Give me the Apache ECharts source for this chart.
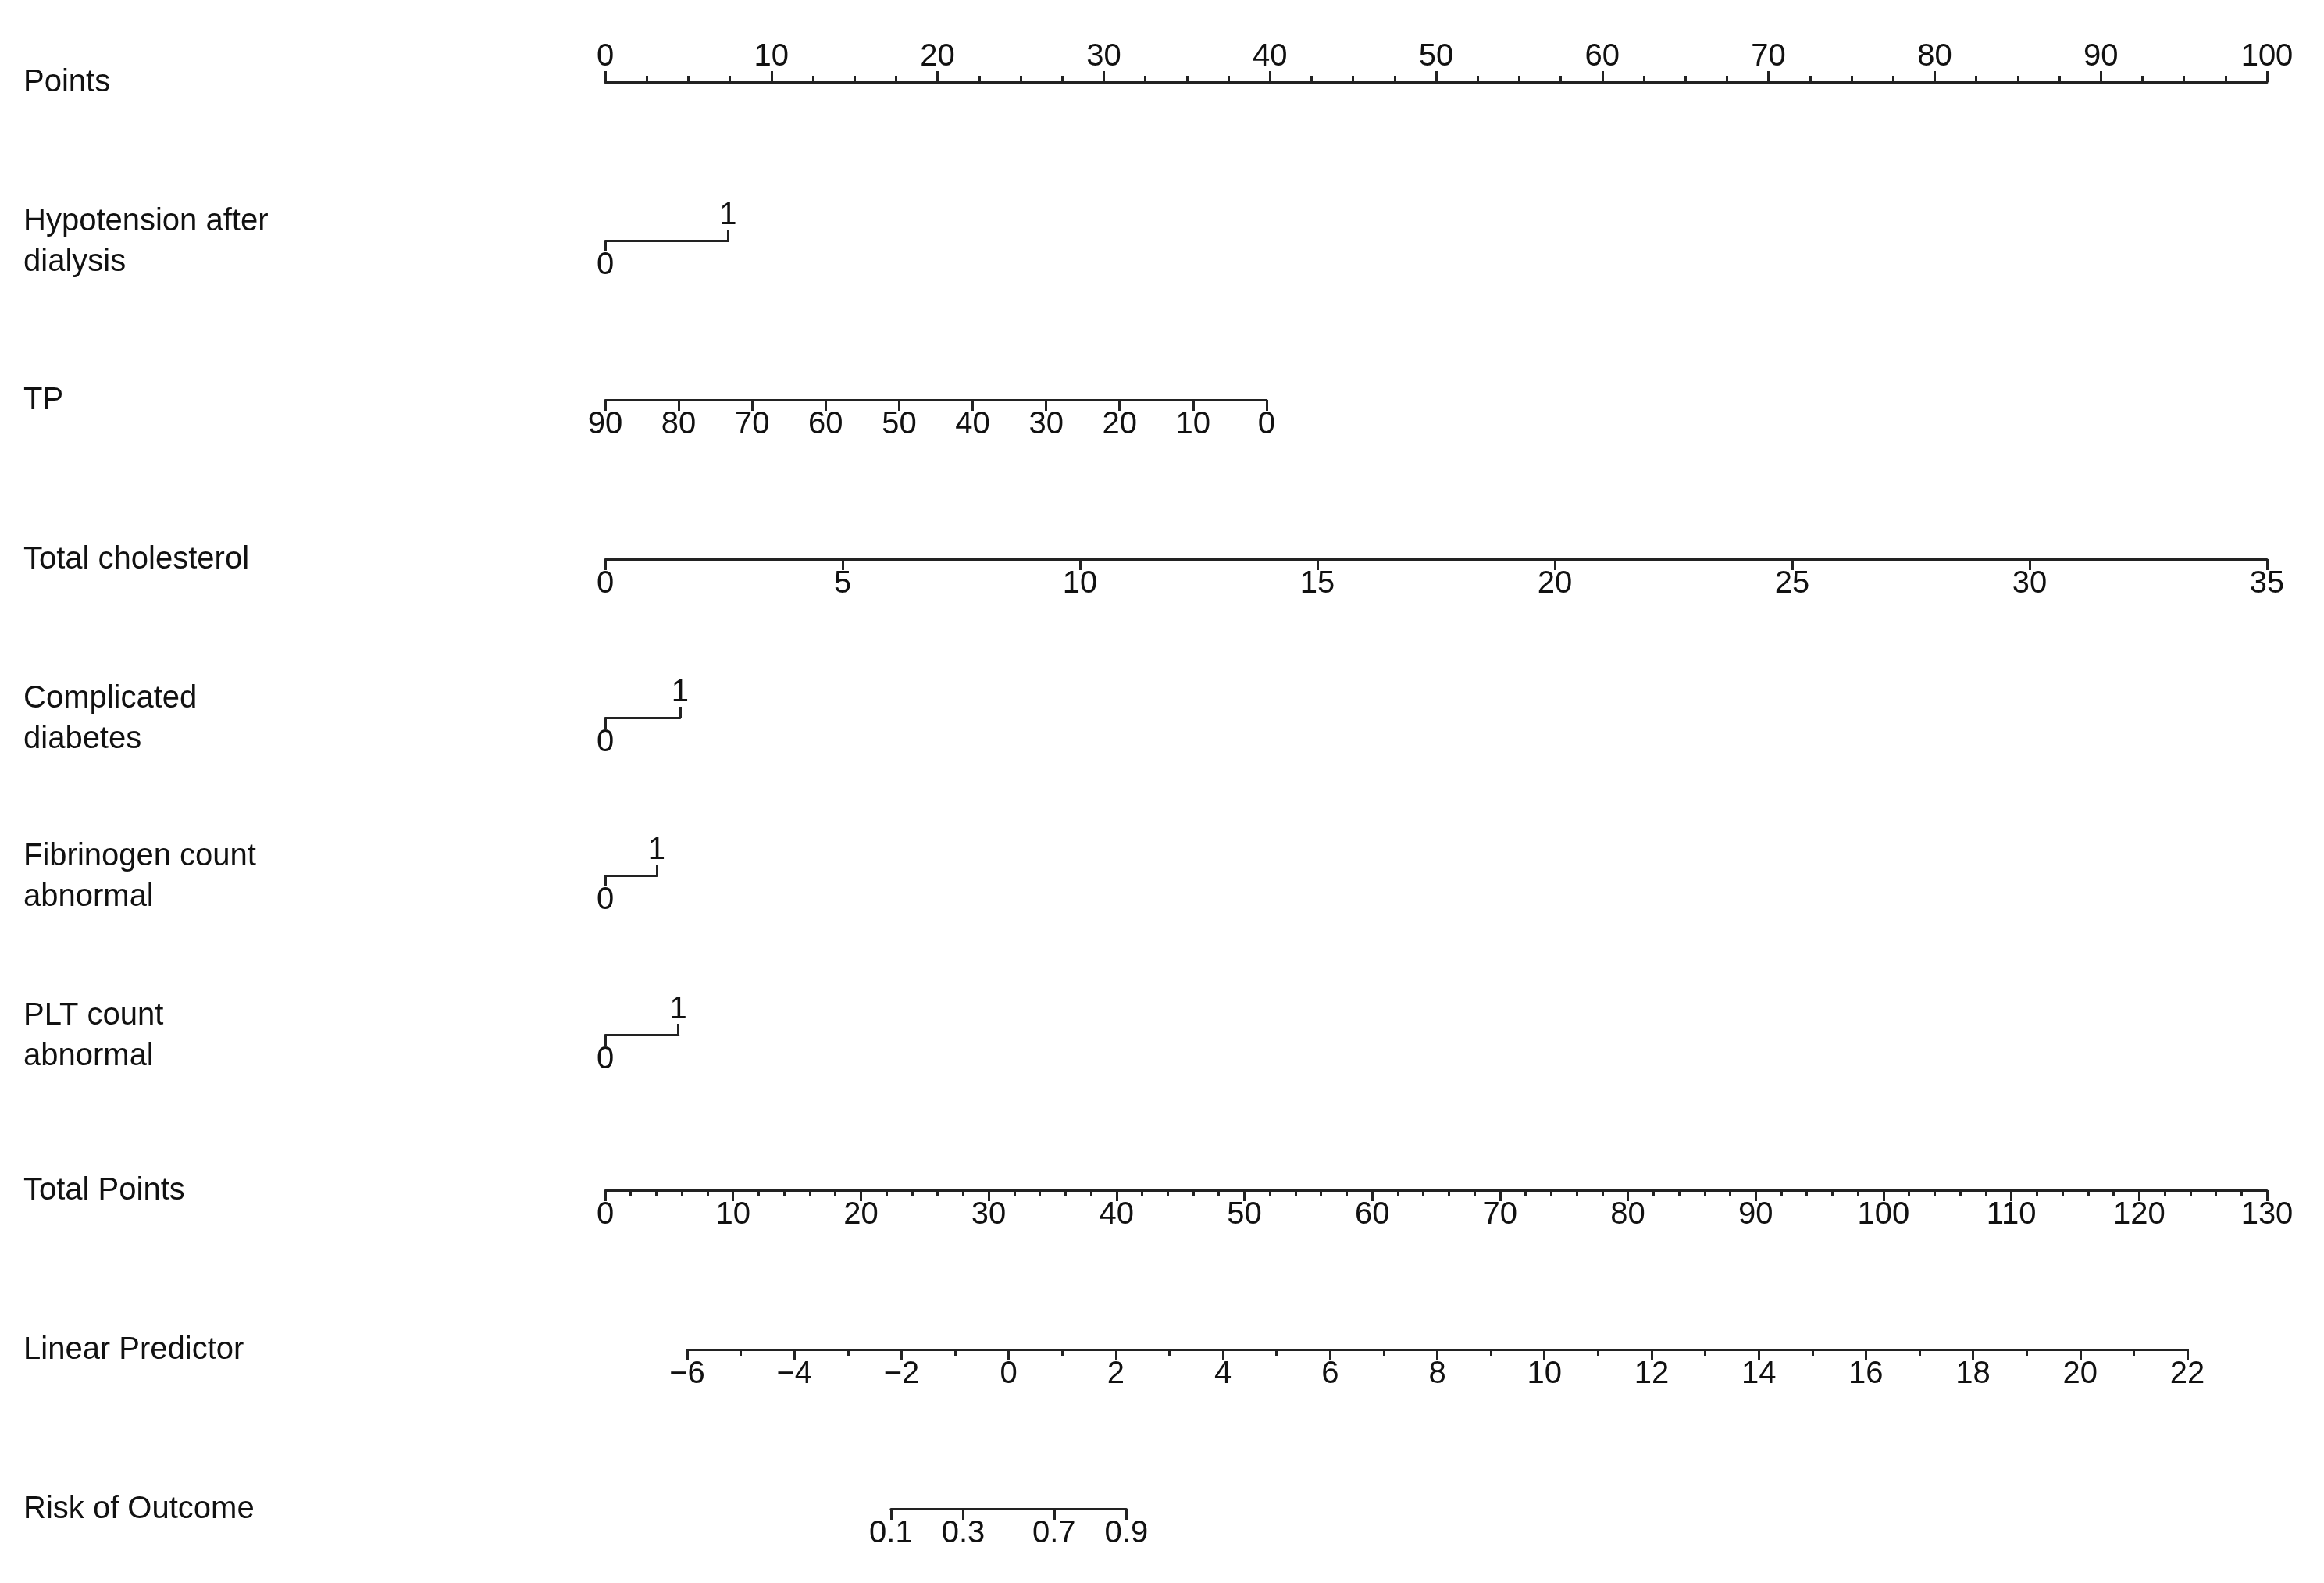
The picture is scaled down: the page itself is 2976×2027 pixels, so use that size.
<!DOCTYPE html>
<html lang="en">
<head>
    <meta charset="UTF-8">
    <title>Nomogram</title>
    <script src="https://cdn.jsdelivr.net/npm/echarts@6/dist/echarts.min.js"></script>
    <style>
        html, body { margin: 0; background: #fff; }
        #container { width: 2976px; height: 2027px; }
    </style>
</head>
<body>
<div id="container"></div>
<script>
    // row labels and the y of each row's axis line
    var rowNames = ['Points', 'Hypotension after\ndialysis', 'TP', 'Total cholesterol',
        'Complicated\ndiabetes', 'Fibrinogen count\nabnormal', 'PLT count\nabnormal',
        'Total Points', 'Linear Predictor', 'Risk of Outcome'];
    var rowY = [105, 308, 512, 716, 919, 1121, 1325, 1524, 1728, 1932];

    // where each predictor's range ends on the points scale
    var tpPoints = 39.8;          // TP 0 -> 39.8 points, TP 90 -> 0 points
    var binaryRows = [1, 4, 5, 6];
    var binaryPoints = [7.4, 4.5, 3.1, 4.4];

    var tpRange = [0, 90];
    var cholRange = [0, 35];
    var totalRange = [0, 130];
    var lpRange = [-6, 22];
    var riskTicks = [0.1, 0.3, 0.7, 0.9];

    // pixel layout of the points scale and the linear predictor
    var px0 = 775, px100 = 2903;
    function ptPx(p) { return px0 + (px100 - px0) * p / 100; }
    var lpPx0 = 880, lpPx1 = 2801;
    function lpPx(v) { return lpPx0 + (lpPx1 - lpPx0) * (v - lpRange[0]) / (lpRange[1] - lpRange[0]); }
    function logit(p) { return Math.log(p / (1 - p)); }

    var FONT = 'Liberation Sans';
    var FS = 40;
    var INK = '#222';

    var grids = [], xAxes = [], yAxes = [];

    function addRow(y, left, right, axes) {
        var gi = grids.length;
        grids.push({ left: left, width: right - left, top: y, height: 0, containLabel: false });
        yAxes.push({ gridIndex: gi, show: false, type: 'value' });
        axes.forEach(function (a) {
            a.gridIndex = gi;
            a.type = 'value';
            a.splitLine = { show: false };
            a.axisLine = a.axisLine || { show: true, onZero: false, lineStyle: { color: INK, width: 3 } };
            a.axisTick = Object.assign({ show: true, length: 14, lineStyle: { color: INK, width: 3 } }, a.axisTick || {});
            a.axisLabel = Object.assign({ fontFamily: FONT, fontSize: FS, color: '#111', margin: 12,
                showMinLabel: true, showMaxLabel: true, hideOverlap: false }, a.axisLabel || {});
            xAxes.push(a);
        });
    }

    // Points
    addRow(rowY[0], ptPx(0), ptPx(100), [{
        position: 'top', min: 0, max: 100, interval: 10,
        minorTick: { show: true, splitNumber: 4, length: 8, lineStyle: { color: INK, width: 3 } }
    }]);

    // binary predictors: line from 0 to 1, "0" below its end, "1" above
    binaryRows.forEach(function (r, i) {
        addRow(rowY[r], ptPx(0), ptPx(binaryPoints[i]), [
            { position: 'bottom', min: 0, max: 1,
              axisTick: { customValues: [0] }, axisLabel: { customValues: [0] } },
            { position: 'top', min: 0, max: 1, axisLine: { show: false, onZero: false },
              axisTick: { customValues: [1] }, axisLabel: { customValues: [1] } }
        ]);
    });

    // TP (reversed)
    addRow(rowY[2], ptPx(0), ptPx(tpPoints), [{
        position: 'bottom', min: tpRange[0], max: tpRange[1], interval: 10, inverse: true
    }]);

    // Total cholesterol
    addRow(rowY[3], ptPx(0), ptPx(100), [{
        position: 'bottom', min: cholRange[0], max: cholRange[1], interval: 5
    }]);

    // Total Points
    addRow(rowY[7], ptPx(0), ptPx(100), [{
        position: 'bottom', min: totalRange[0], max: totalRange[1], interval: 10,
        minorTick: { show: true, splitNumber: 5, length: 8, lineStyle: { color: INK, width: 3 } }
    }]);

    // Linear Predictor
    addRow(rowY[8], lpPx(lpRange[0]), lpPx(lpRange[1]), [{
        position: 'bottom', min: lpRange[0], max: lpRange[1], interval: 2,
        minorTick: { show: true, splitNumber: 2, length: 8, lineStyle: { color: INK, width: 3 } },
        axisLabel: { formatter: function (v) { return v < 0 ? '\u2212' + (-v) : String(v); } }
    }]);

    // Risk of Outcome on the logit scale of the linear predictor
    var riskVals = riskTicks.map(logit);
    addRow(rowY[9], lpPx(riskVals[0]), lpPx(riskVals[riskVals.length - 1]), [{
        position: 'bottom', min: riskVals[0], max: riskVals[riskVals.length - 1],
        axisTick: { customValues: riskVals },
        axisLabel: { customValues: riskVals,
            formatter: function (v) { return (1 / (1 + Math.exp(-v))).toFixed(1); } }
    }]);

    var graphic = rowNames.map(function (name, i) {
        return {
            type: 'text', left: 30, top: rowY[i] - (name.indexOf('\n') >= 0 ? 50 : 25),
            style: { text: name, font: FS + 'px "' + FONT + '"', fill: '#111', lineHeight: 52 }
        };
    });

    var myChart = echarts.init(document.getElementById('container'));
    myChart.setOption({
        animation: false,
        backgroundColor: '#fff',
        grid: grids,
        xAxis: xAxes,
        yAxis: yAxes,
        graphic: graphic,
        series: []
    });
</script>
</body>
</html>
